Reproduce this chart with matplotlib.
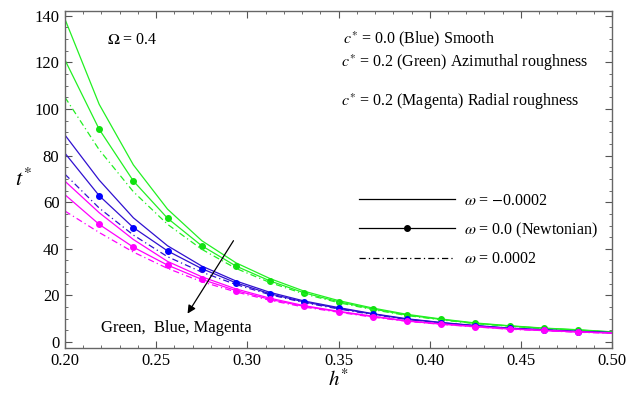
import matplotlib
matplotlib.use("Agg")
import matplotlib.pyplot as plt
from matplotlib.lines import Line2D
from matplotlib.ticker import MultipleLocator, FormatStrFormatter

plt.rcParams['font.family'] = ['Liberation Serif', 'DejaVu Serif']
plt.rcParams['mathtext.fontset'] = 'stix'

# h* grid (mesh points of the curves)
h = [0.2, 0.21875, 0.2375, 0.25625, 0.275, 0.29375, 0.3125, 0.33125, 0.35,
     0.36875, 0.3875, 0.40625, 0.425, 0.44375, 0.4625, 0.48125, 0.5]

# green: c*=0.2 azimuthal roughness
green_neg = [138.5, 102.0, 76.0, 57.0, 43.5, 34.0, 27.2, 21.8, 17.8, 14.6, 11.9, 9.9, 8.2, 7.0, 6.0, 5.3, 4.4]
green_0 = [121.0, 91.3, 69.1, 53.1, 41.3, 32.6, 26.2, 21.1, 17.3, 14.2, 11.6, 9.7, 8.0, 6.9, 5.9, 5.2, 4.3]
green_pos = [105.0, 82.5, 64.5, 50.5, 39.8, 31.6, 25.5, 20.6, 16.9, 13.9, 11.4, 9.5, 7.9, 6.8, 5.8, 5.1, 4.2]

# blue: c*=0.0 smooth
blue_neg = [88.8, 69.5, 53.3, 41.3, 32.6, 26.2, 21.3, 17.6, 14.8, 12.2, 10.0, 8.4, 7.1, 6.0, 5.3, 4.6, 4.1]
blue_0 = [81.0, 62.8, 49.1, 39.1, 31.5, 25.4, 20.7, 17.2, 14.5, 12.0, 9.8, 8.3, 7.0, 5.9, 5.2, 4.5, 4.0]
blue_pos = [72.0, 57.5, 45.9, 36.6, 30.0, 24.7, 20.3, 16.9, 14.2, 11.8, 9.7, 8.2, 6.9, 5.8, 5.1, 4.4, 4.0]

# magenta: c*=0.2 radial roughness
mag_neg = [69.0, 55.5, 44.0, 34.6, 28.0, 22.8, 18.8, 15.6, 13.2, 11.1, 9.1, 7.8, 6.7, 5.7, 5.0, 4.4, 3.9]
mag_0 = [63.2, 50.5, 40.7, 33.0, 26.9, 22.1, 18.3, 15.3, 13.0, 10.9, 9.0, 7.7, 6.6, 5.6, 5.0, 4.3, 3.9]
mag_pos = [56.2, 47.0, 38.6, 31.6, 25.9, 21.5, 17.9, 15.0, 12.8, 10.7, 8.9, 7.6, 6.5, 5.5, 4.9, 4.2, 3.8]

dashdot = (0, (5, 2.5, 1, 2.5))

fig = plt.figure(figsize=(6.37, 3.94), dpi=100)
ax = fig.add_axes([0.102, 0.117, 0.859, 0.855])

groups = [(green_neg, green_0, green_pos, '#22f022', '#11e011'),
          (blue_neg, blue_0, blue_pos, '#3010d0', '#0000ff'),
          (mag_neg, mag_0, mag_pos, '#ff00ff', '#ff00ff')]
for neg, zero, pos, lc, mc in groups:
    ax.plot(h, neg, color=lc, lw=0.9)
    ax.plot(h, zero, color=lc, lw=0.9, marker='o', ms=4, mfc=mc, mec=mc,
            markevery=slice(1, 16))
    ax.plot(h, pos, color=lc, lw=0.9, linestyle=dashdot)

ax.set_xlim(0.2, 0.5)
ax.set_ylim(-2.5, 142)
ax.xaxis.set_major_locator(MultipleLocator(0.05))
ax.xaxis.set_minor_locator(MultipleLocator(0.01))
ax.xaxis.set_major_formatter(FormatStrFormatter('%.2f'))
ax.yaxis.set_major_locator(MultipleLocator(20))
ax.yaxis.set_minor_locator(MultipleLocator(5))
ax.tick_params(which='both', direction='in', top=True, right=True,
               labelsize=12, color='#555555', pad=4)
ax.tick_params(which='major', length=5)
ax.tick_params(which='minor', length=2.5)
for sp in ax.spines.values():
    sp.set_color('#666666')
    sp.set_linewidth(1.0)

ax.set_xlabel('$h^{*}$', fontsize=15, labelpad=0)
ax.set_ylabel('$t^{*}$', fontsize=16, rotation=0, va='center')
ax.yaxis.set_label_coords(-0.075, 0.5)

ax.text(0.223, 129.6, r'$\Omega$ = 0.4', fontsize=11.5, va='center')
ax.text(0.3527, 130.0, r'$c^{*}$ = 0.0 (Blue) Smooth', fontsize=11.5, va='center')
ax.text(0.3516, 119.8, r'$c^{*}$ = 0.2 (Green) Azimuthal roughness', fontsize=11.5, va='center')
ax.text(0.3516, 103.2, r'$c^{*}$ = 0.2 (Magenta) Radial roughness', fontsize=11.5, va='center')

ax.annotate('', xy=(0.2664, 11.2), xytext=(0.2932, 44.5),
            arrowprops=dict(arrowstyle='-|>', color='black', lw=0.9,
                            mutation_scale=12))
ax.text(0.2609, 6.1, 'Green,  Blue, Magenta', fontsize=12,
        ha='center', va='center')

handles = [Line2D([], [], color='black', lw=0.9),
           Line2D([], [], color='black', lw=0.9, marker='o', ms=4),
           Line2D([], [], color='black', lw=0.9, linestyle=dashdot)]
labels = [r'$\omega$ = $-$0.0002', r'$\omega$ = 0.0 (Newtonian)',
          r'$\omega$ = 0.0002']
ax.legend(handles, labels, loc='upper left', bbox_to_anchor=(0.5375, 0.46),
          frameon=False, fontsize=11.5, handlelength=6.0, handletextpad=0.55,
          labelspacing=0.72, numpoints=1, borderaxespad=0, borderpad=0)

fig.savefig('out.png', dpi=100)
